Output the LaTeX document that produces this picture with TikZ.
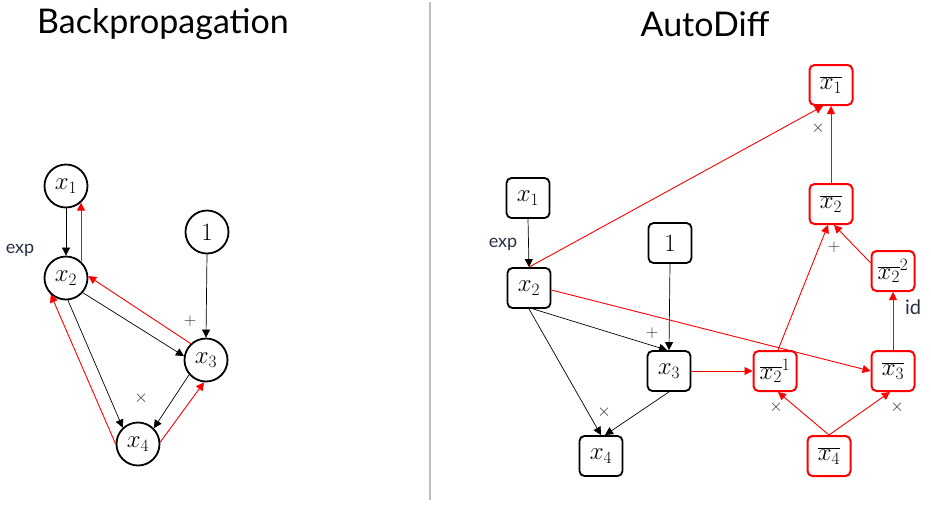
\documentclass[tikz,border=0pt]{standalone}
\usepackage{fontspec}
\setmainfont{Lato}
\usetikzlibrary{arrows.meta,calc}
\definecolor{lbl}{RGB}{40,48,70}
\definecolor{rd}{RGB}{255,0,0}
\definecolor{divg}{RGB}{190,190,190}
\begin{document}
\begin{tikzpicture}[x=1pt,y=-1pt,
  cnode/.style={draw,circle,line width=1.8pt,minimum size=43pt,inner sep=0pt,font=\fontsize{23}{26}\selectfont},
  bnode/.style={draw,rounded corners=5pt,line width=1.8pt,minimum width=43pt,minimum height=40pt,inner sep=0pt,font=\fontsize{23}{26}\selectfont},
  rnode/.style={bnode,draw=rd,line width=2pt},
  tip/.style={-{Triangle[length=8pt,width=8pt]}},
  blk/.style={tip,line width=0.7pt,black},
  redar/.style={tip,line width=0.9pt,rd},
  lab/.style={text=lbl,font=\fontsize{18}{20}\selectfont,inner sep=0pt},
  ttl/.style={font=\fontsize{34}{38}\selectfont,inner sep=0pt}]
\useasboundingbox (0,0) rectangle (931,507);
% titles and divider
\node[ttl] (t1) at (163,24) {Backpropagation};
\node[ttl] (t2) at (705,24) {AutoDiff};
\draw[divg,line width=2.5pt] (430,2) -- (430,500);
% left graph
\node[cnode] (a1) at (66,186) {$x_1$};
\node[cnode] (aone) at (207,232) {$1$};
\node[cnode] (a2) at (66,278) {$x_2$};
\node[cnode] (a3) at (206,360) {$x_3$};
\node[cnode] (a4) at (138,444) {$x_4$};
\draw[blk] (a1.south) -- (a2.north);
\draw[redar] (a2.48) -- (a1.-48);
\draw[blk] (aone.south) -- (a3.north);
\draw[blk] (a2.-41) -- (a3.170);
\draw[redar] (a3.133) -- (a2.5);
\draw[blk] (a2.-85) -- (a4.133);
\draw[redar] (a4.180) -- (a2.-133);
\draw[blk] (a3.-139) -- (a4.45);
\draw[redar] (a4.5) -- (a3.-95);
\node[lab] (le) at (20,250) {exp};
\node[lab] (lp) at (190,321) {$+$};
\node[lab] (lx) at (141,398) {$\times$};
% right graph: forward
\node[bnode] (b1) at (528,198) {$x_1$};
\node[bnode] (bone) at (670,243) {$1$};
\node[bnode] (b2) at (529,288) {$x_2$};
\node[bnode] (b3) at (669,371) {$x_3$};
\node[bnode] (b4) at (601,456) {$x_4$};
\draw[blk] (b1.south) -- (b2.north);
\draw[blk] (bone.south) -- (b3.north);
\draw[blk] ([xshift=4pt]b2.south) -- ([xshift=-2pt]b3.north);
\draw[blk] (b2.south) -- (b4.north);
\draw[blk] (b3.south) -- ([xshift=4pt]b4.north);
% right graph: backward
\node[rnode] (r1) at (831,85) {$\overline{x_1}$};
\node[rnode] (r2) at (831,204) {$\overline{x_2}$};
\node[rnode] (r22) at (893,271) {$\overline{x_2}^{2}$};
\node[rnode] (r21) at (775,371) {$\overline{x_2}^{1}$};
\node[rnode] (r3) at (893,371) {$\overline{x_3}$};
\node[rnode] (r4) at (829,456) {$\overline{x_4}$};
\draw[redar] (b2.north) -- ([xshift=-8pt]r1.south);
\draw[redar] ([yshift=-2pt]b2.east) -- (r3.west);
\draw[redar] (b3.east) -- (r21.west);
\draw[redar] ([xshift=3pt]r21.north) -- ([xshift=-3pt]r2.south);
\draw[redar] (r22.160) -- ([xshift=3pt]r2.south);
\draw[redar] (r2.north) -- (r1.south);
\draw[redar] (r3.north) -- (r22.south);
\draw[redar] (r4.north) -- ([xshift=3pt]r21.south);
\draw[redar] (r4.north) -- ([xshift=-3pt]r3.south);
\node[lab] (re) at (503,244) {exp};
\node[lab] (rp) at (652,333) {$+$};
\node[lab] (rx) at (604,412) {$\times$};
\node[lab] (rx1) at (818,128) {$\times$};
\node[lab] (rp2) at (834,247) {$+$};
\node[lab,font=\fontsize{20}{22}\selectfont] (rid) at (913,307) {id};
\node[lab] (rx21) at (776,407) {$\times$};
\node[lab] (rx3) at (897,407) {$\times$};
\end{tikzpicture}
\end{document}
